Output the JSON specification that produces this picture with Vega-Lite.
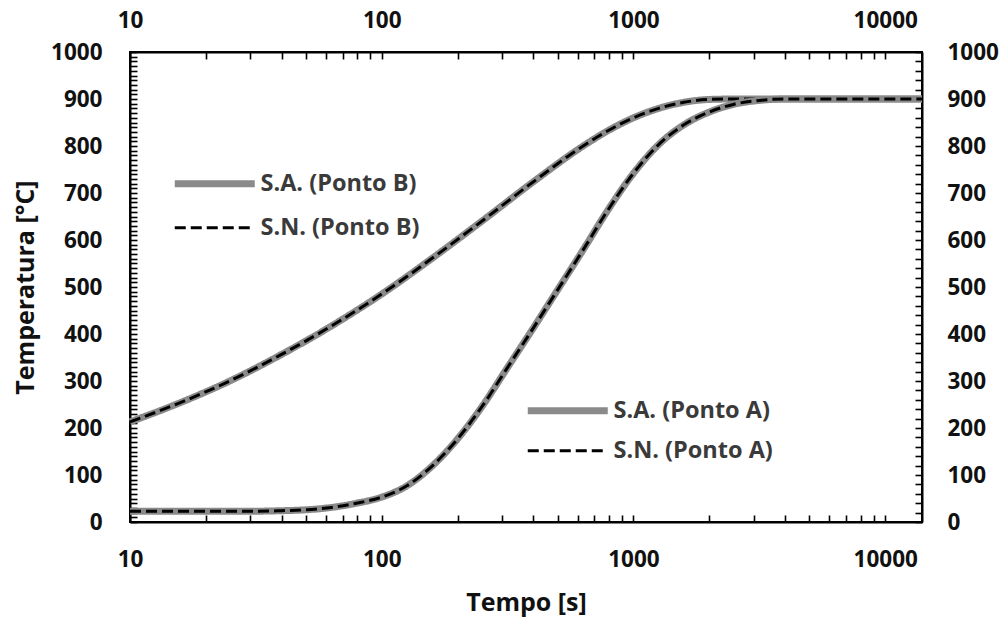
{
  "$schema": "https://vega.github.io/schema/vega-lite/v6.json",
  "width": 792,
  "height": 470,
  "autosize": {"type": "none"},
  "padding": {"left": 130, "top": 52, "right": 83, "bottom": 99},
  "background": "white",
  "config": {
    "view": {"stroke": "black", "strokeWidth": 2},
    "font": "Open Sans",
    "axis": {
      "grid": false,
      "ticks": true,
      "labelFont": "Open Sans",
      "labelFontSize": 22.5,
      "labelFontWeight": "bold",
      "labelColor": "#111111",
      "titleFont": "Open Sans",
      "titleFontSize": 25,
      "titleFontWeight": "bold",
      "titleColor": "#111111",
      "domainColor": "black",
      "domainWidth": 2,
      "tickColor": "black",
      "tickWidth": 1.6,
      "tickSize": -7,
      "tickCount": 1000,
      "labelOverlap": false,
      "labelFlush": false
    },
    "legend": {
      "labelFont": "Open Sans",
      "labelFontSize": 23.5,
      "labelFontWeight": "bold",
      "labelColor": "#3a3a3a",
      "padding": 0
    }
  },
  "datasets": {
    "B": [
      {"t": 10, "T": 213}, {"t": 15.85, "T": 254}, {"t": 25.12, "T": 301}, {"t": 39.81, "T": 356},
      {"t": 63.1, "T": 417}, {"t": 100, "T": 485}, {"t": 158.5, "T": 561}, {"t": 251.2, "T": 641},
      {"t": 398.1, "T": 723}, {"t": 631, "T": 800}, {"t": 794.3, "T": 833}, {"t": 1000, "T": 860},
      {"t": 1259, "T": 880}, {"t": 1585, "T": 893}, {"t": 1995, "T": 899}, {"t": 2512, "T": 900},
      {"t": 3981, "T": 900}, {"t": 14000, "T": 900}
    ],
    "A": [
      {"t": 10, "T": 23}, {"t": 31.6, "T": 23}, {"t": 39.8, "T": 24}, {"t": 50.1, "T": 26},
      {"t": 63.1, "T": 31}, {"t": 79.4, "T": 40}, {"t": 100, "T": 53}, {"t": 125.9, "T": 77},
      {"t": 158.5, "T": 119}, {"t": 199.5, "T": 176}, {"t": 251.2, "T": 247}, {"t": 316.2, "T": 329},
      {"t": 398.1, "T": 411}, {"t": 501.2, "T": 495}, {"t": 631, "T": 579}, {"t": 794.3, "T": 665},
      {"t": 1000, "T": 742}, {"t": 1259, "T": 803}, {"t": 1585, "T": 845}, {"t": 1995, "T": 872},
      {"t": 2512, "T": 889}, {"t": 3162, "T": 897}, {"t": 3981, "T": 900}, {"t": 6310, "T": 900},
      {"t": 14000, "T": 900}
    ]
  },
  "layer": [
    {
      "layer": [
        {
          "data": {"name": "B"},
          "transform": [{"calculate": "'S.A. (Ponto B)'", "as": "serie"}],
          "mark": {"type": "line", "interpolate": "monotone"},
          "encoding": {
            "x": {
              "field": "t", "type": "quantitative",
              "scale": {"type": "log", "domain": [10, 14000], "nice": false},
              "axis": {
                "orient": "bottom", "title": "Tempo [s]", "titlePadding": 20,
                "values": [10,20,30,40,50,60,70,80,90,100,200,300,400,500,600,700,800,900,1000,2000,3000,4000,5000,6000,7000,8000,9000,10000],
                "labelExpr": "indexof([10,100,1000,10000], datum.value) >= 0 ? datum.value : ''",
                "labelPadding": 44, "labelBaseline": "middle"
              }
            },
            "y": {
              "field": "T", "type": "quantitative",
              "scale": {"domain": [0, 1000], "nice": false, "zero": false},
              "axis": {
                "orient": "left", "title": "Temperatura [°C]", "titlePadding": 12,
                "values": [0,10,20,30,40,50,60,70,80,90,100,110,120,130,140,150,160,170,180,190,200,210,220,230,240,250,260,270,280,290,300,310,320,330,340,350,360,370,380,390,400,410,420,430,440,450,460,470,480,490,500,510,520,530,540,550,560,570,580,590,600,610,620,630,640,650,660,670,680,690,700,710,720,730,740,750,760,770,780,790,800,810,820,830,840,850,860,870,880,890,900,910,920,930,940,950,960,970,980,990,1000],
                "labelExpr": "datum.value % 100 == 0 ? datum.value : ''",
                "labelPadding": 35, "labelBaseline": "middle"
              }
            },
            "color": {
              "field": "serie", "type": "nominal",
              "scale": {"domain": ["S.A. (Ponto B)", "S.N. (Ponto B)"], "range": ["#8a8a8a", "#000000"]},
              "legend": {"orient": "none", "legendX": 73, "legendY": 120, "title": null, "symbolType": "M-8,0H8", "symbolSize": 100, "labelOffset": 34, "rowPadding": 17}
            },
            "strokeDash": {
              "field": "serie", "type": "nominal",
              "scale": {"domain": ["S.A. (Ponto B)", "S.N. (Ponto B)"], "range": [[1, 0], [11, 5]]},
              "legend": {"orient": "none", "legendX": 73, "legendY": 120, "title": null, "symbolType": "M-8,0H8", "symbolSize": 100, "labelOffset": 34, "rowPadding": 17}
            },
            "strokeWidth": {
              "field": "serie", "type": "nominal",
              "scale": {"domain": ["S.A. (Ponto B)", "S.N. (Ponto B)"], "range": [7, 3]},
              "legend": {"orient": "none", "legendX": 73, "legendY": 120, "title": null, "symbolType": "M-8,0H8", "symbolSize": 100, "labelOffset": 34, "rowPadding": 17}
            }
          }
        },
        {
          "data": {"name": "B"},
          "transform": [{"calculate": "'S.N. (Ponto B)'", "as": "serie"}],
          "mark": {"type": "line", "interpolate": "monotone"},
          "encoding": {
            "x": {"field": "t", "type": "quantitative"},
            "y": {"field": "T", "type": "quantitative"},
            "color": {"field": "serie", "type": "nominal"},
            "strokeDash": {"field": "serie", "type": "nominal"},
            "strokeWidth": {"field": "serie", "type": "nominal"}
          }
        }
      ]
    },
    {
      "layer": [
        {
          "data": {"name": "A"},
          "transform": [{"calculate": "'S.A. (Ponto A)'", "as": "serie"}],
          "mark": {"type": "line", "interpolate": "monotone"},
          "encoding": {
            "x": {
              "field": "t", "type": "quantitative",
              "axis": {
                "orient": "top", "title": null,
                "values": [10,20,30,40,50,60,70,80,90,100,200,300,400,500,600,700,800,900,1000,2000,3000,4000,5000,6000,7000,8000,9000,10000],
                "labelExpr": "indexof([10,100,1000,10000], datum.value) >= 0 ? datum.value : ''",
                "labelPadding": 39, "labelBaseline": "middle"
              }
            },
            "y": {
              "field": "T", "type": "quantitative",
              "axis": {
                "orient": "right", "title": null,
                "values": [0,20,40,60,80,100,120,140,160,180,200,220,240,260,280,300,320,340,360,380,400,420,440,460,480,500,520,540,560,580,600,620,640,660,680,700,720,740,760,780,800,820,840,860,880,900,920,940,960,980,1000],
                "labelExpr": "datum.value % 100 == 0 ? datum.value : ''",
                "labelPadding": 32, "labelBaseline": "middle"
              }
            },
            "color": {
              "field": "serie", "type": "nominal",
              "scale": {"domain": ["S.A. (Ponto A)", "S.N. (Ponto A)"], "range": ["#8a8a8a", "#000000"]},
              "legend": {"orient": "none", "legendX": 426, "legendY": 347, "title": null, "symbolType": "M-8,0H8", "symbolSize": 100, "labelOffset": 34, "rowPadding": 13}
            },
            "strokeDash": {
              "field": "serie", "type": "nominal",
              "scale": {"domain": ["S.A. (Ponto A)", "S.N. (Ponto A)"], "range": [[1, 0], [11, 5]]},
              "legend": {"orient": "none", "legendX": 426, "legendY": 347, "title": null, "symbolType": "M-8,0H8", "symbolSize": 100, "labelOffset": 34, "rowPadding": 13}
            },
            "strokeWidth": {
              "field": "serie", "type": "nominal",
              "scale": {"domain": ["S.A. (Ponto A)", "S.N. (Ponto A)"], "range": [7, 3]},
              "legend": {"orient": "none", "legendX": 426, "legendY": 347, "title": null, "symbolType": "M-8,0H8", "symbolSize": 100, "labelOffset": 34, "rowPadding": 13}
            }
          }
        },
        {
          "data": {"name": "A"},
          "transform": [{"calculate": "'S.N. (Ponto A)'", "as": "serie"}],
          "mark": {"type": "line", "interpolate": "monotone"},
          "encoding": {
            "x": {"field": "t", "type": "quantitative"},
            "y": {"field": "T", "type": "quantitative"},
            "color": {"field": "serie", "type": "nominal"},
            "strokeDash": {"field": "serie", "type": "nominal"},
            "strokeWidth": {"field": "serie", "type": "nominal"}
          }
        }
      ]
    }
  ],
  "resolve": {
    "scale": {"color": "independent", "strokeDash": "independent", "strokeWidth": "independent"},
    "legend": {"color": "independent", "strokeDash": "independent", "strokeWidth": "independent"},
    "axis": {"x": "independent", "y": "independent"}
  }
}
